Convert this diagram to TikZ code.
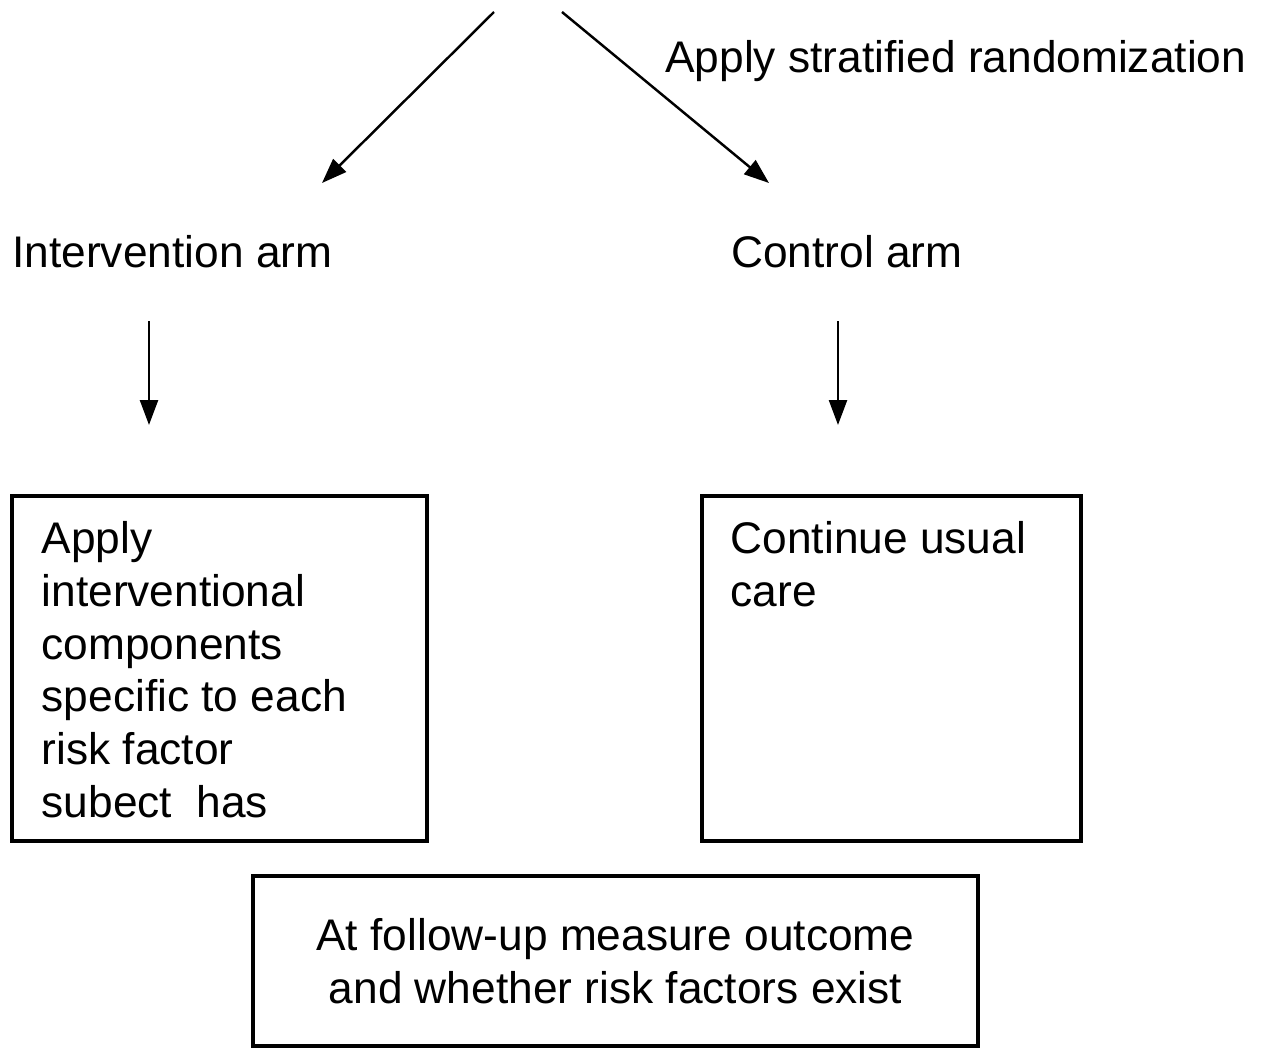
\documentclass[tikz,border=0pt]{standalone}
\usepackage{fontspec}
\setmainfont{Liberation Sans}
\usetikzlibrary{arrows.meta, positioning}
\tikzset{
    armlabel/.style={inner sep=0pt, anchor=base west},
    boxtext/.style={inner sep=0pt, align=left},
    flowbox/.style={draw, line width=1.9pt, inner sep=0pt},
    flowarrow/.style={-{Triangle[length=0.5cm, width=0.36cm]}, line width=1.4pt},
}
\begin{document}
\begin{tikzpicture}[font=\fontsize{25.2}{30}\selectfont]
    \useasboundingbox (0,0) rectangle (25.28,-20.98);

    \coordinate (splitl) at (9.88,-0.24);
    \coordinate (splitr) at (11.24,-0.24);
    \coordinate (tointerv) at (6.44,-3.66);
    \coordinate (tocontrol) at (15.38,-3.66);
    \node[armlabel] (strat) at (13.30,-1.44) {Apply stratified randomization};

    \node[armlabel] (interv) at (0.24,-5.34) {Intervention arm};
    \node[armlabel] (control) at (14.62,-5.34) {Control arm};

    \coordinate (intervdown) at (2.98,-6.42);
    \coordinate (intervbox) at (2.98,-8.50);
    \coordinate (controldown) at (16.76,-6.42);
    \coordinate (controlbox) at (16.76,-8.50);

    \node[flowbox, minimum width=8.30cm, minimum height=6.90cm] (ibox) at (4.39,-13.37) {};
    \node[boxtext, below right=0.54cm and 0.62cm of ibox.north west] (itext)
        {Apply\\interventional\\components\\specific to each\\risk factor\\subect\ \ has};

    \node[flowbox, minimum width=7.58cm, minimum height=6.90cm] (cbox) at (17.83,-13.37) {};
    \node[boxtext, below right=0.54cm and 0.60cm of cbox.north west] (ctext)
        {Continue usual\\care};

    \node[flowbox, minimum width=14.50cm, minimum height=3.40cm, align=center,
          font=\fontsize{25.2}{30}\selectfont] (outcome) at (12.31,-19.22)
        {At follow-up measure outcome\\and whether risk factors exist};

    \draw[flowarrow] (splitl) -- (tointerv);
    \draw[flowarrow] (splitr) -- (tocontrol);
    \draw[flowarrow] (intervdown) -- (intervbox);
    \draw[flowarrow] (controldown) -- (controlbox);
\end{tikzpicture}
\end{document}
